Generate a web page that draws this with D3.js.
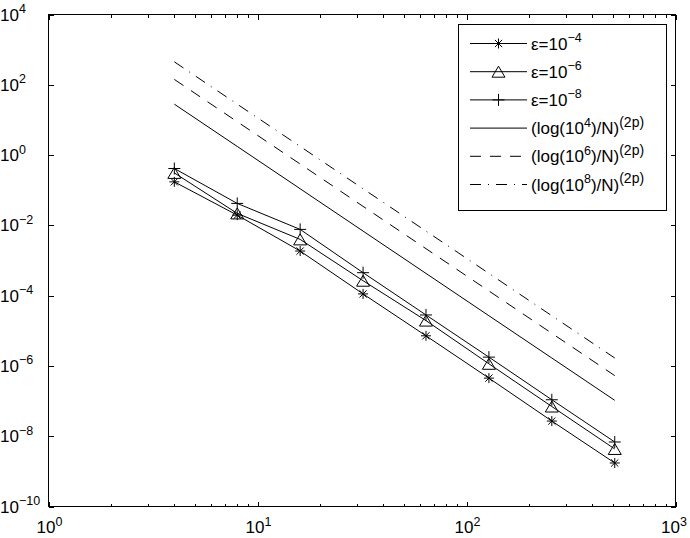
<!DOCTYPE html>
<html>
<head>
<meta charset="utf-8">
<script src="https://d3js.org/d3.v7.min.js"></script>
<style>
    body { margin: 0; background: #fff; }
    svg { display: block; font-family: "Liberation Sans", Arial, Helvetica, sans-serif; }
    .tick line { stroke: #000; }
</style>
</head>
<body>
<svg id="chart" width="690" height="538"></svg>
<script>
// values (log-log plot)
const N = [4, 8, 16, 32, 64, 128, 256, 512];
const errEps4 = [0.173, 0.0195, 1.86e-3, 1.12e-4, 7.2e-6, 4.5e-7, 2.7e-8, 1.73e-9];
const errEps6 = [0.311, 0.0219, 3.99e-3, 2.66e-4, 1.95e-5, 1.15e-6, 7.0e-8, 4.34e-9];
const errEps8 = [0.415, 0.0421, 7.67e-3, 4.5e-4, 2.82e-5, 1.78e-6, 1.09e-7, 6.85e-9];
const refEps4 = [28.1, 1.76, 0.110, 6.87e-3, 4.29e-4, 2.68e-5, 1.68e-6, 1.05e-7];
const refEps6 = [142, 8.89, 0.556, 0.0347, 2.17e-3, 1.36e-4, 8.48e-6, 5.3e-7];
const refEps8 = [450, 28.1, 1.76, 0.110, 6.87e-3, 4.29e-4, 2.68e-5, 1.68e-6];
const xTickExps = [0, 1, 2, 3];
const yTickExps = [-10, -8, -6, -4, -2, 0, 2, 4];

// [text, 0 = normal / 1 = superscript]
const legendLabels = [
    [['ε=10', 0], ['−4', 1]],
    [['ε=10', 0], ['−6', 1]],
    [['ε=10', 0], ['−8', 1]],
    [['(log(10', 0], ['4', 1], [')/N)', 0], ['(2p)', 1]],
    [['(log(10', 0], ['6', 1], [')/N)', 0], ['(2p)', 1]],
    [['(log(10', 0], ['8', 1], [')/N)', 0], ['(2p)', 1]]
];

const series = [
    { values: errEps4, marker: 'star', dash: null },
    { values: errEps6, marker: 'triangle', dash: null },
    { values: errEps8, marker: 'plus', dash: null },
    { values: refEps4, marker: null, dash: null },
    { values: refEps6, marker: null, dash: '11,9' },
    { values: refEps8, marker: null, dash: '11,7,1,7' }
];

const margin = { left: 48.5, right: 675.5, top: 14.5, bottom: 506.5 };
const fontSize = 17, supSize = 12.5;

const svg = d3.select('#chart');

const x = d3.scaleLog().domain([1, 1000]).range([margin.left, margin.right]);
const y = d3.scaleLog().domain([1e-10, 1e4]).range([margin.bottom, margin.top]);

const markerPaths = {
    star: 'M-5,0H5M0,-5V5M-3.6,-3.6L3.6,3.6M-3.6,3.6L3.6,-3.6',
    triangle: 'M0,-5.5L6.5,5.5L-6.5,5.5Z',
    plus: 'M-6,0H6M0,-6V6'
};

// axes: ticks point inwards, mirrored on top and right
const xMajor = xTickExps.map(e => Math.pow(10, e));
const xMinor = x.ticks().filter(v => !xMajor.some(m => Math.abs(m - v) < 1e-9));
const yMajor = yTickExps.map(e => Math.pow(10, e));

function drawAxis(gen, tr) {
    const g = svg.append('g').attr('transform', tr).call(gen);
    g.select('.domain').remove();
    g.selectAll('text').remove();
    g.selectAll('line').attr('stroke', '#000').attr('shape-rendering', 'crispEdges');
}

drawAxis(d3.axisBottom(x).tickValues(xMajor).tickSize(-5), `translate(0,${margin.bottom})`);
drawAxis(d3.axisBottom(x).tickValues(xMinor).tickSize(-3), `translate(0,${margin.bottom})`);
drawAxis(d3.axisTop(x).tickValues(xMajor).tickSize(-5), `translate(0,${margin.top})`);
drawAxis(d3.axisTop(x).tickValues(xMinor).tickSize(-3), `translate(0,${margin.top})`);
drawAxis(d3.axisLeft(y).tickValues(yMajor).tickSize(-5), `translate(${margin.left},0)`);
drawAxis(d3.axisRight(y).tickValues(yMajor).tickSize(-5), `translate(${margin.right},0)`);

svg.append('rect')
    .attr('x', margin.left).attr('y', margin.top)
    .attr('width', margin.right - margin.left)
    .attr('height', margin.bottom - margin.top)
    .attr('fill', 'none').attr('stroke', '#000')
    .attr('shape-rendering', 'crispEdges');

// write "10^e" style text with superscripts
function richText(sel, parts, supBig) {
    parts.forEach(([str, sup], i) => {
        const prev = i > 0 ? parts[i - 1][1] : 0;
        const size = sup ? (supBig && str.length > 2 ? supBig : supSize) : fontSize;
        const t = sel.append('tspan').text(str).attr('font-size', size);
        if (sup && !prev) t.attr('dy', -7.5);
        if (!sup && prev) t.attr('dy', 7.5);
    });
}

xTickExps.forEach(e => {
    const t = svg.append('text')
        .attr('x', Math.min(x(Math.pow(10, e)) + 1, 674))
        .attr('y', 533)
        .attr('text-anchor', 'middle');
    richText(t, [['10', 0], [String(e).replace('-', '−'), 1]]);
});

yTickExps.forEach(e => {
    const t = svg.append('text')
        .attr('x', 0)
        .attr('y', y(Math.pow(10, e)) + 6)
        .attr('text-anchor', 'start');
    richText(t, [['10', 0], [String(e).replace('-', '−'), 1]]);
});

// lines and markers
const line = d3.line().x((d, i) => x(N[i])).y(d => y(d));

series.forEach(s => {
    svg.append('path')
        .datum(s.values)
        .attr('d', line)
        .attr('fill', 'none')
        .attr('stroke', '#000')
        .attr('stroke-width', 1)
        .attr('stroke-dasharray', s.dash);
    if (s.marker) {
        svg.append('g').selectAll('path')
            .data(s.values)
            .enter().append('path')
            .attr('transform', (d, i) => `translate(${x(N[i])},${y(d)})`)
            .attr('d', markerPaths[s.marker])
            .attr('fill', 'none')
            .attr('stroke', '#000');
    }
});

// legend
const legend = svg.append('g');
legend.append('rect')
    .attr('x', 458.5).attr('y', 24.5)
    .attr('width', 208).attr('height', 186)
    .attr('fill', '#fff').attr('stroke', '#000')
    .attr('shape-rendering', 'crispEdges');

series.forEach((s, i) => {
    const ly = 43.5 + i * 28.2;
    legend.append('line')
        .attr('x1', 470).attr('x2', 527)
        .attr('y1', ly).attr('y2', ly)
        .attr('stroke', '#000')
        .attr('stroke-dasharray', s.dash);
    if (s.marker) {
        legend.append('path')
            .attr('transform', `translate(498.5,${ly})`)
            .attr('d', markerPaths[s.marker])
            .attr('fill', 'none').attr('stroke', '#000');
    }
    const t = legend.append('text')
        .attr('x', 531)
        .attr('y', ly + 6);
    richText(t, legendLabels[i], 14);
});
</script>
</body>
</html>
